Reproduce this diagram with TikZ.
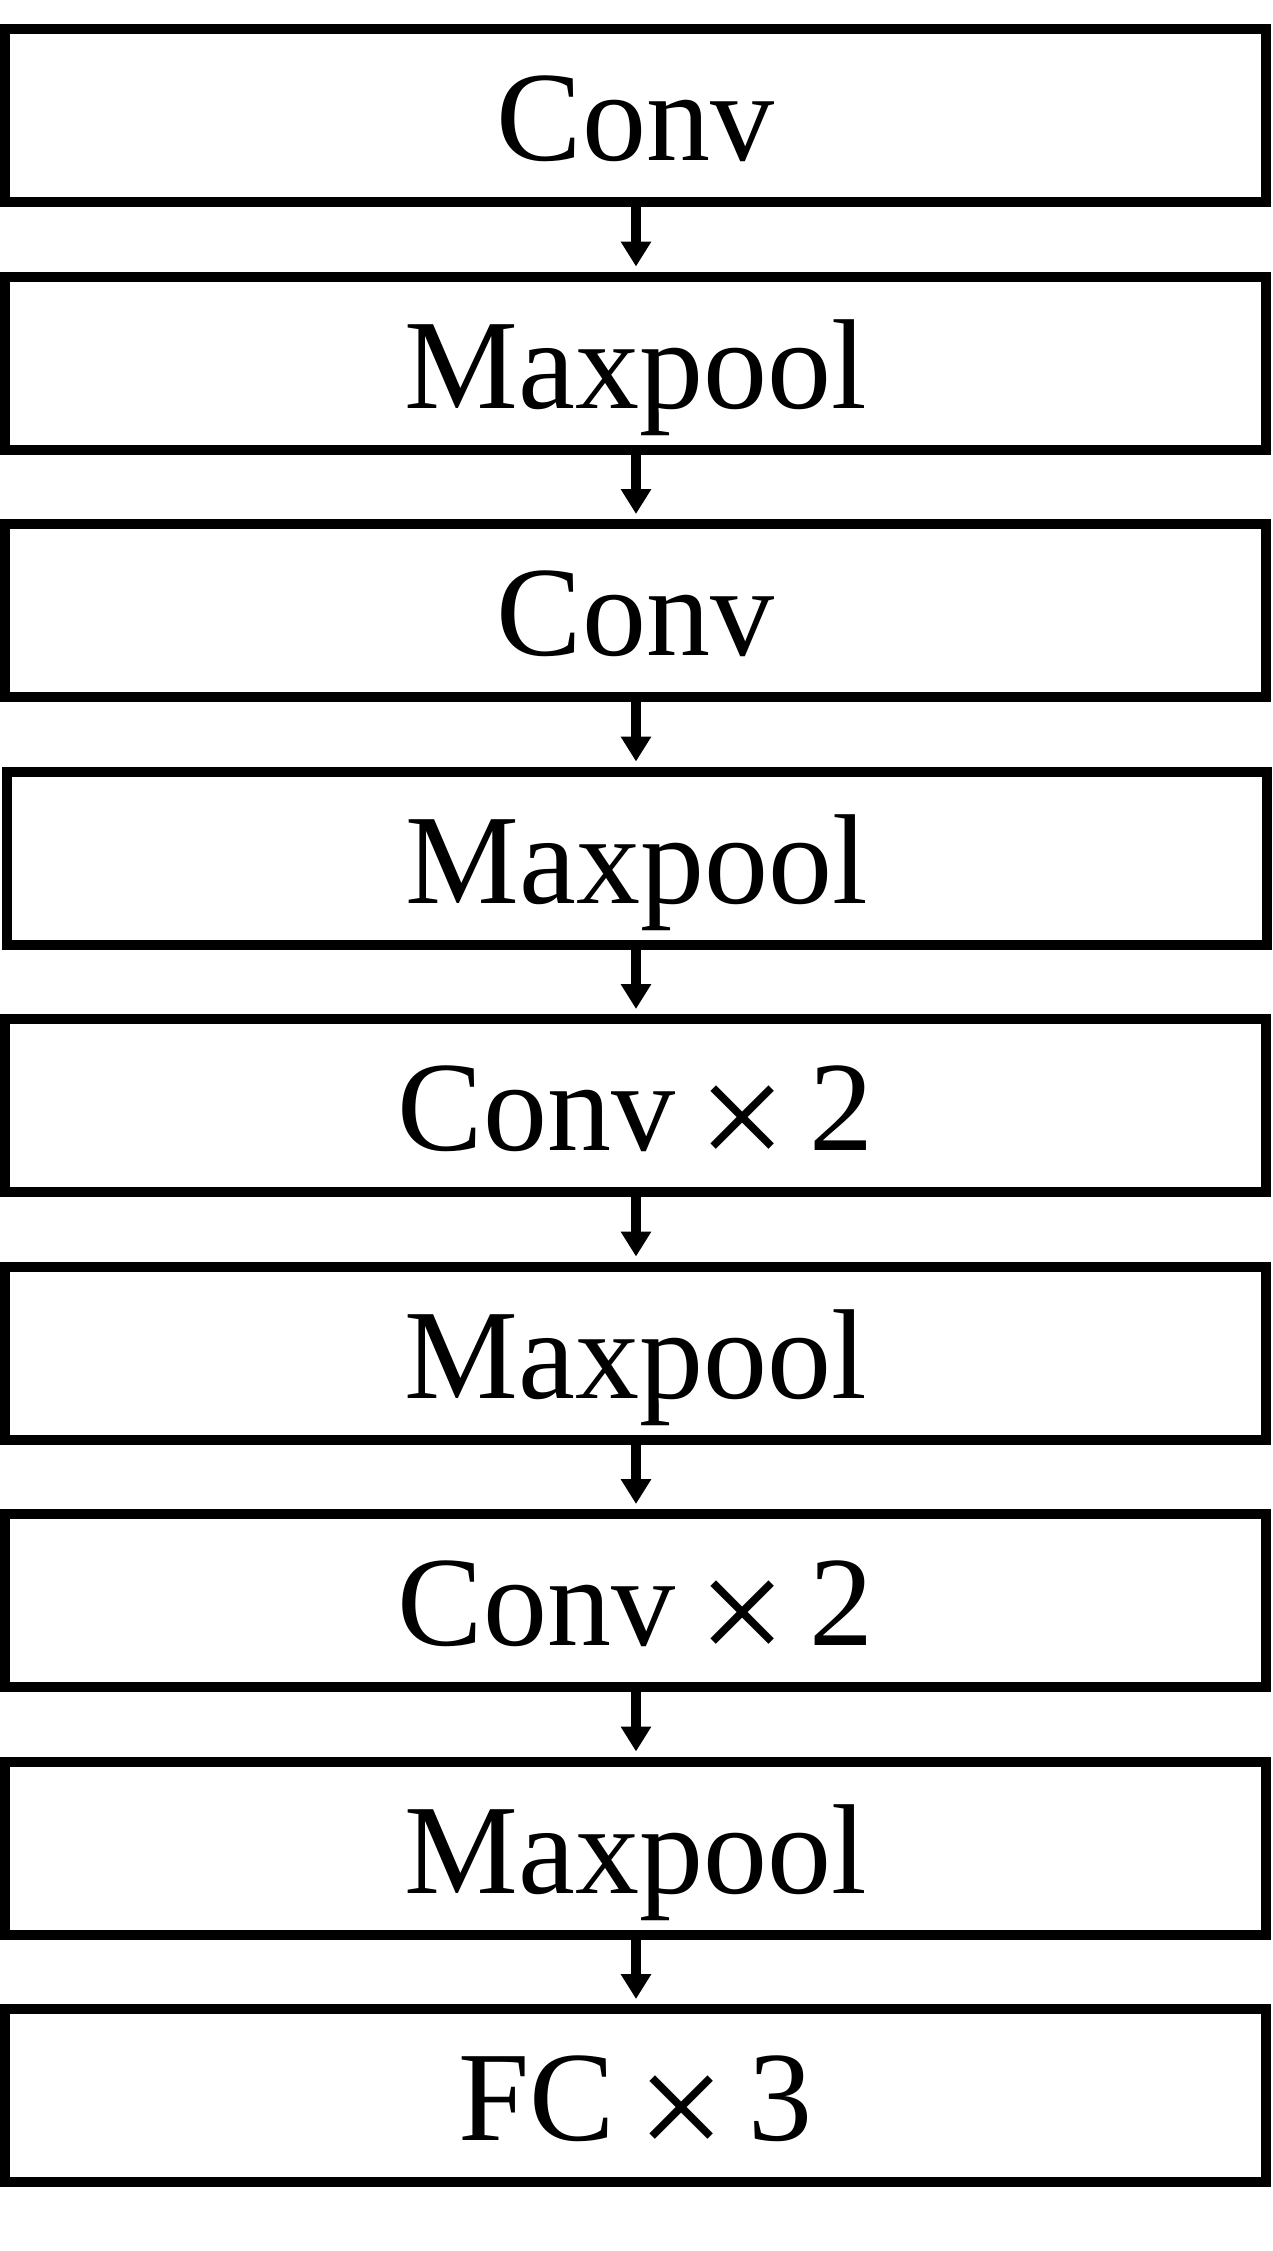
\documentclass[tikz,border=0pt]{standalone}
\usepackage{fontspec}
\usepackage{graphicx}
\setmainfont{Liberation Serif}
\usetikzlibrary{arrows.meta}
\newcommand\mytimes{\kern-9pt\raisebox{-19pt}{\scalebox{1.22}{×}}\kern-9pt}
\begin{document}
\begin{tikzpicture}[x=1pt,y=-1pt,
  layer/.style={draw=black, line width=10pt, rectangle, inner sep=0pt,
    minimum width=1261pt, minimum height=173pt,
    font=\fontsize{128}{140}\selectfont, text height=90pt, text depth=0pt},
  flow/.style={line width=10pt, -{Triangle[width=29pt,length=25pt]}, shorten >=5pt}]
\useasboundingbox (0,0) rectangle (1272,2251);
\node[layer] (b1) at (635.5,115.5) {Conv};
\node[layer] (b2) at (635.5,363) {Maxpool};
\node[layer] (b3) at (635.5,610.5) {Conv};
\node[layer, minimum width=1260pt] (b4) at (637,858) {Maxpool};
\node[layer] (b5) at (635.5,1105.5) {Conv \mytimes{} 2};
\node[layer] (b6) at (635.5,1353) {Maxpool};
\node[layer] (b7) at (635.5,1600.5) {Conv \mytimes{} 2};
\node[layer] (b8) at (635.5,1848) {Maxpool};
\node[layer] (b9) at (635.5,2095.5) {FC \mytimes{} 3};
\foreach \a/\b in {b1/b2,b2/b3,b3/b4,b4/b5,b5/b6,b6/b7,b7/b8,b8/b9}
  \draw[flow] (\a.south -| 636,0) -- (\b.north -| 636,0);
\end{tikzpicture}
\end{document}
